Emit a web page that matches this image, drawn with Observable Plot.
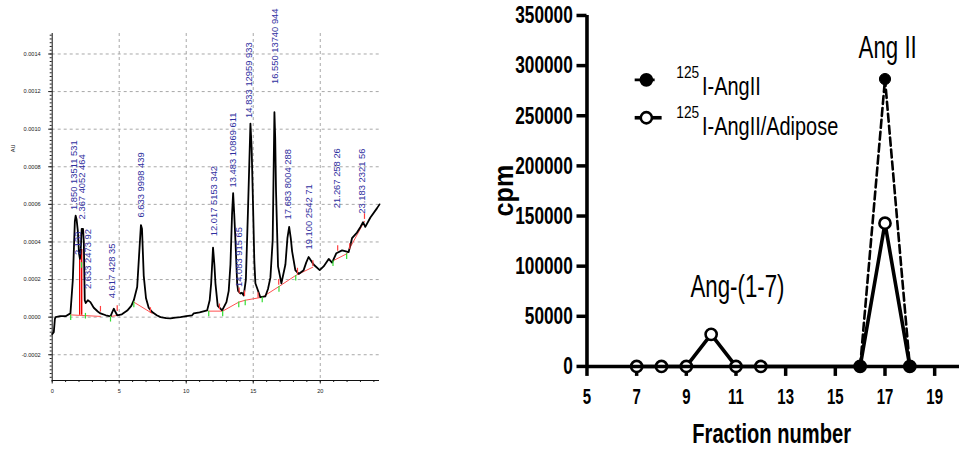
<!DOCTYPE html>
<html><head><meta charset="utf-8">
<script src="https://cdn.jsdelivr.net/npm/d3@7"></script>
<script src="https://cdn.jsdelivr.net/npm/@observablehq/plot@0.6"></script>
<style>
html,body{margin:0;padding:0;background:#fff;overflow:hidden;}
#wrap{position:relative;width:959px;height:454px;overflow:hidden;}
#left{position:absolute;left:0;top:0;}
#right{position:absolute;left:480px;top:0;}
svg{overflow:visible;}
</style></head><body><div id="wrap"><div id="left"></div><div id="right"></div></div>
<script>
// ---------------- Left panel: HPLC chromatogram ----------------
const traceTime = [0.0,0.12,0.2,0.25,0.6,1.0,1.36,1.54,1.69,1.75,1.82,1.91,2.0,2.07,2.13,2.2,2.3,2.36,2.43,2.5,2.66,2.85,3.1,3.4,3.6,4.0,4.35,4.5,4.6,4.7,4.85,5.2,5.6,5.9,6.09,6.34,6.5,6.62,6.7,6.83,7.0,7.2,7.46,7.8,8.08,8.5,8.82,9.2,9.57,10.0,10.44,10.56,11.0,11.56,11.75,11.86,12.0,12.1,12.18,12.35,12.68,13.0,13.17,13.3,13.42,13.5,13.58,13.67,13.8,13.87,14.04,14.15,14.29,14.45,14.6,14.79,14.88,14.96,15.08,15.16,15.53,15.9,16.1,16.28,16.45,16.58,16.64,16.7,16.85,17.1,17.4,17.55,17.68,17.8,17.9,18.14,18.39,18.76,18.95,19.13,19.5,19.96,20.25,20.63,20.88,21.2,21.63,22.12,22.37,22.74,23.0,23.19,23.36,23.74,24.24,24.42];
const traceAU = [-0.00009,-0.00008,-0.00001,0.0,0.000005,0.000005,0.00002,0.0002,0.00051,0.00054,0.00052,0.00046,0.00034,0.00031,0.00036,0.00047,0.00047,0.0004,0.00009,0.000075,0.00009,0.00008,0.00005,0.00003,0.00002,0.00001,0.000004,0.00003,0.000045,0.00003,0.00001,0.000015,0.000035,0.00006,0.00009,0.00016,0.00035,0.00049,0.00047,0.00022,0.0001,0.00005,0.000027,0.00001,0.0,-0.000005,-0.000007,-0.000002,0.0,0.000005,0.00001,0.00002,0.000025,0.000036,0.00009,0.00018,0.00037,0.00028,0.00018,0.00006,0.000036,0.00008,0.00014,0.00028,0.00055,0.00066,0.00055,0.00041,0.00018,0.00014,0.000126,0.00013,0.000115,0.0002,0.00055,0.00103,0.0009,0.00067,0.0003,0.00018,0.000106,0.00011,0.00015,0.00021,0.00041,0.00109,0.00095,0.00067,0.00027,0.00018,0.00028,0.00042,0.00048,0.00042,0.00035,0.00025,0.00023,0.00025,0.00029,0.00032,0.00028,0.00025,0.00027,0.00031,0.00029,0.00034,0.000355,0.000346,0.00042,0.00045,0.00048,0.000505,0.00048,0.00053,0.00058,0.0006];
const baselineSeg = [1,1,2,2,3,3,4,4,4,4,4,4,4,4,5,5,6,6];
const baselineTime = [1.38,3.6,4.35,5.0,6.09,7.46,11.68,12.72,13.92,14.4,15.67,16.92,18.17,19.45,20.95,21.97,21.97,23.3];
const baselineAU = [0.000012,0.000004,0.000004,0.00001,0.00008,0.00002,0.000032,0.000032,0.00008,0.00009,0.000106,0.000163,0.000222,0.000266,0.0003,0.000337,0.000337,0.00051];
const dropTime = [2.05,2.2];
const dropTopAU = [0.00033,0.00036];
const startMarkTime = [1.38,2.19,2.48,4.35,6.09,11.68,12.72,13.92,14.4,15.67,16.92,18.17,20.95,21.97];
const startMarkAU = [0.000012,0.00029,0.00002,0.000004,0.00008,0.000032,0.000032,0.00008,0.00009,0.000106,0.000163,0.000222,0.0003,0.000337];
const endMarkTime = [3.6,4.85,7.33,12.48,13.95,14.35,15.36,16.9,18.3,19.45,21.3,22.2,23.3];
const endMarkAU = [0.000027,0.00003,0.00002,0.00004,0.000125,0.00011,0.0001,0.00017,0.00023,0.00027,0.00035,0.00036,0.00052];
const peakLabels = ["1.850 13511 531","2.133","2.367 4052 464","2.633 2473 92","4.617 428 35","6.633 9998 439","12.017 5153 342","13.483 10869 611","14.083 915 65","14.833 12959 933","16.550 13740 944","17.683 8004 288","19.100 2542 71","21.267 258 26","23.183 2321 56"];
const peakLabelTime = [1.66,1.93,2.24,2.66,4.47,6.66,12.05,13.47,13.97,14.71,16.65,17.57,19.13,21.25,23.12];
const peakLabelAU = [0.00057,0.00033,0.00052,0.00015,0.0001,0.00053,0.00043,0.00069,0.00016,0.00106,0.00124,0.00052,0.00036,0.00058,0.00055];
const leftYTicks = [-0.0002,0,0.0002,0.0004,0.0006,0.0008,0.0010,0.0012,0.0014];
const leftXTicks = [0,5,10,15,20];
const leftYLabel = "AU";

// ---------------- Right panel: radioactivity profile ----------------
const fractionsAdipose = [7,8,9,10,11,12,16,17,18];
const cpmAdipose = [0,0,0,32000,0,0,0,142800,0];
const fractionsAngII = [16,17,18];
const cpmAngII = [0,286600,0];
const seriesNames = ["I-AngII","I-AngII/Adipose"];
const isotope = "125";
const rightYTicks = [0,50000,100000,150000,200000,250000,300000,350000];
const rightXTicks = [5,7,9,11,13,15,17,19];
const annotationLabels = ["Ang-(1-7)","Ang II"];
const annotationFraction = [10,17];
const rightXLabel = "Fraction number";
const rightYLabel = "cpm";

// ---------- build left ----------
const trace = traceTime.map((t,i)=>({t, au: traceAU[i]}));
const baseline = baselineTime.map((t,i)=>({t, au: baselineAU[i], seg: baselineSeg[i]}));
const drops = dropTime.map((t,i)=>({t, top: dropTopAU[i]}));
const starts = startMarkTime.map((t,i)=>({t, au: startMarkAU[i]}));
const ends = endMarkTime.map((t,i)=>({t, au: endMarkAU[i]}));
const peaks = peakLabels.map((s,i)=>({s, t: peakLabelTime[i], au: peakLabelAU[i]}));
const yLo = -0.000337, yHi = 0.001509;
const gridStyle = {stroke:"#a8a8a8", strokeOpacity:1, strokeDasharray:"3,3", strokeWidth:1};

const leftPlot = Plot.plot({
  width: 400, height: 454,
  marginLeft: 51.7, marginRight: 21, marginTop: 33, marginBottom: 74,
  style: {fontFamily: "'Liberation Sans', Arial, sans-serif", background: "transparent", color:"#222"},
  x: {domain: [0, 24.42]},
  y: {domain: [yLo, yHi]},
  marks: [
    Plot.gridX(leftXTicks.filter(v => v > 0), gridStyle),
    Plot.gridY(leftYTicks, gridStyle),
    Plot.axisY(d3.ticks(-0.00032, 0.0015, 91), {tickSize: 2, tickFormat: () => "", label: null, stroke:"#222"}),
    Plot.axisY(leftYTicks, {tickSize: 3.5, tickPadding: 8, tickFormat: d => d.toFixed(4), fontSize: 5.6, label: null, stroke:"#222"}),
    Plot.axisX(d3.range(0, 25, 1), {tickSize: 2, tickFormat: () => "", label: null, stroke:"#222"}),
    Plot.axisX(leftXTicks, {tickSize: 3.5, tickPadding: 5, tickFormat: d => String(d), fontSize: 5.6, label: null, stroke:"#222"}),
    Plot.ruleX([0], {stroke:"#111", strokeWidth: 1}),
    Plot.ruleY([yLo], {stroke:"#111", strokeWidth: 1}),
    Plot.line(baseline, {x:"t", y:"au", z:"seg", stroke:"#ff5050", strokeWidth: 1}),
    Plot.ruleX(drops, {x:"t", y1: 0.00001, y2:"top", stroke:"#ee0000", strokeWidth: 1.4}),
    Plot.line(trace, {x:"t", y:"au", stroke:"#000", strokeWidth: 1.8, curve:"linear"}),
    Plot.ruleX(starts, {x:"t", y1: d => d.au - 0.00003, y2:"au", stroke:"#33dd33", strokeWidth: 1.2}),
    Plot.ruleX(ends, {x:"t", y1:"au", y2: d => d.au + 0.00003, stroke:"#ff4040", strokeWidth: 1.2}),
    Plot.text(peaks, {x:"t", y:"au", text:"s", rotate:-90, textAnchor:"start", fill:"#2f2fa0", fontSize: 9.4}),
    Plot.text([leftYLabel], {frameAnchor:"left", dx:-38.7, dy:-54.8, rotate:-90, fontSize:5.6, fill:"#222"})
  ]
});
document.getElementById("left").appendChild(leftPlot);

// ---------- build right ----------
const adip = fractionsAdipose.map((f,i)=>({f, cpm: cpmAdipose[i]}));
const ang = fractionsAngII.map((f,i)=>({f, cpm: cpmAngII[i]}));
const annots = annotationLabels.map((s,i)=>{
  const f = annotationFraction[i];
  const vals = [...adip.filter(d=>d.f===f), ...ang.filter(d=>d.f===f)].map(d=>d.cpm);
  return {s, f, cpm: d3.max(vals)};
});
const FF = "'Liberation Sans', Arial, sans-serif";
const rightPlot = Plot.plot({
  width: 480, height: 454,
  marginLeft: 106.7, marginRight: 0, marginTop: 15, marginBottom: 87.3,
  style: {fontFamily: FF, background: "transparent", color:"#000"},
  x: {domain: [5, 20]},
  y: {domain: [0, 350000]},
  marks: [
    Plot.axisY(rightYTicks, {tickSize: 10, tickPadding: 4.3, strokeWidth: 3.5, fontSize: 24.5, fontWeight: "bold", label: null, tickFormat: d => String(d)}),
    Plot.axisX(rightXTicks, {tickSize: 10, tickPadding: 12, strokeWidth: 3.5, fontSize: 21.4, fontWeight: "bold", label: null, tickFormat: d => String(d)}),
    Plot.line(adip, {x:"f", y:"cpm", stroke:"#000", strokeWidth: 3.6}),
    Plot.line(ang, {x:"f", y:"cpm", stroke:"#000", strokeWidth: 2.6, strokeDasharray:"8,4"}),
    Plot.dot(adip, {x:"f", y:"cpm", r: 5.6, fill:"#fff", stroke:"#000", strokeWidth: 2.6}),
    Plot.dot(ang, {x:"f", y:"cpm", r: 5.6, fill:"#000", stroke:"#000", strokeWidth: 1}),
    Plot.ruleY([0], {stroke:"#000", strokeWidth: 3.6}),
    Plot.ruleX([5], {y1: 0, y2: 350000, stroke:"#000", strokeWidth: 3.6}),
    Plot.text(annots.filter(d=>d.f===10), {x:"f", y:"cpm", text:"s", dx: 26.4, dy: -37.3, lineAnchor:"bottom", fontSize: 31, fill:"#000"}),
    Plot.text(annots.filter(d=>d.f===17), {x:"f", y:"cpm", text:"s", dx: 2.7, dy: -21.3, lineAnchor:"bottom", fontSize: 31, fill:"#000"}),
    Plot.text([rightXLabel], {frameAnchor:"bottom", dx:-1.6, dy:76.6, lineAnchor:"bottom", fontSize: 28, fontWeight:"bold", fill:"#000"})
  ]
});
document.getElementById("right").appendChild(rightPlot);

const rsvg = d3.select(rightPlot);
// y axis title (rotated)
rsvg.append("text").attr("class","ytitle")
  .attr("transform","translate(23,191) rotate(-90)")
  .attr("text-anchor","middle").attr("dy","0.35em")
  .attr("font-family",FF).attr("font-size",28).attr("font-weight","bold")
  .attr("fill","#000").text(rightYLabel);

// legend (drawn inside the right panel)
const lg = rsvg.append("g").attr("class","legend").attr("text-anchor","start");
const rows = [
  {y: 80, dash: "8,4", width: 2.6, x2: 176, fill: "#000", ty: 95},
  {y: 118, dash: null, width: 3.6, x2: 182, fill: "#fff", ty: 135}
];
rows.forEach((r,i)=>{
  lg.append("line").attr("x1",155).attr("x2",r.x2).attr("y1",r.y).attr("y2",r.y)
    .attr("stroke","#000").attr("stroke-width",r.width).attr("stroke-dasharray",r.dash);
  lg.append("circle").attr("cx",166.7).attr("cy",r.y).attr("r",5.6)
    .attr("fill",r.fill).attr("stroke","#000").attr("stroke-width",2.6);
  lg.append("text").attr("class","sup").attr("x",196.7).attr("y",r.ty-17).attr("font-size",17)
    .attr("text-anchor","start").attr("font-family",FF).text(isotope);
  lg.append("text").attr("class","main").attr("x",222.5).attr("y",r.ty).attr("font-size",25.6)
    .attr("text-anchor","start").attr("font-family",FF).text(seriesNames[i]);
});

function squeeze(sel, k){
  sel.each(function(){
    const w = this.getComputedTextLength();
    if (w > 0) { this.setAttribute("textLength", (w*k).toFixed(2)); this.setAttribute("lengthAdjust","spacingAndGlyphs"); }
  });
}
// condensed look of the original's type
squeeze(rsvg.selectAll('g[aria-label="y-axis tick label"] text'), 0.705);
squeeze(rsvg.selectAll('g[aria-label="x-axis tick label"] text'), 0.70);
rsvg.selectAll('g[aria-label="y-axis tick"], g[aria-label="x-axis tick"]').attr("stroke-width", 3.5).selectAll("*").attr("stroke-width", 3.5);
squeeze(rsvg.selectAll('g[aria-label="text"] text'), 0.72);
squeeze(rsvg.selectAll("text.ytitle"), 0.9);
squeeze(lg.selectAll("text.main"), 0.78);
squeeze(lg.selectAll("text.sup"), 0.81);
</script>
</body></html>
